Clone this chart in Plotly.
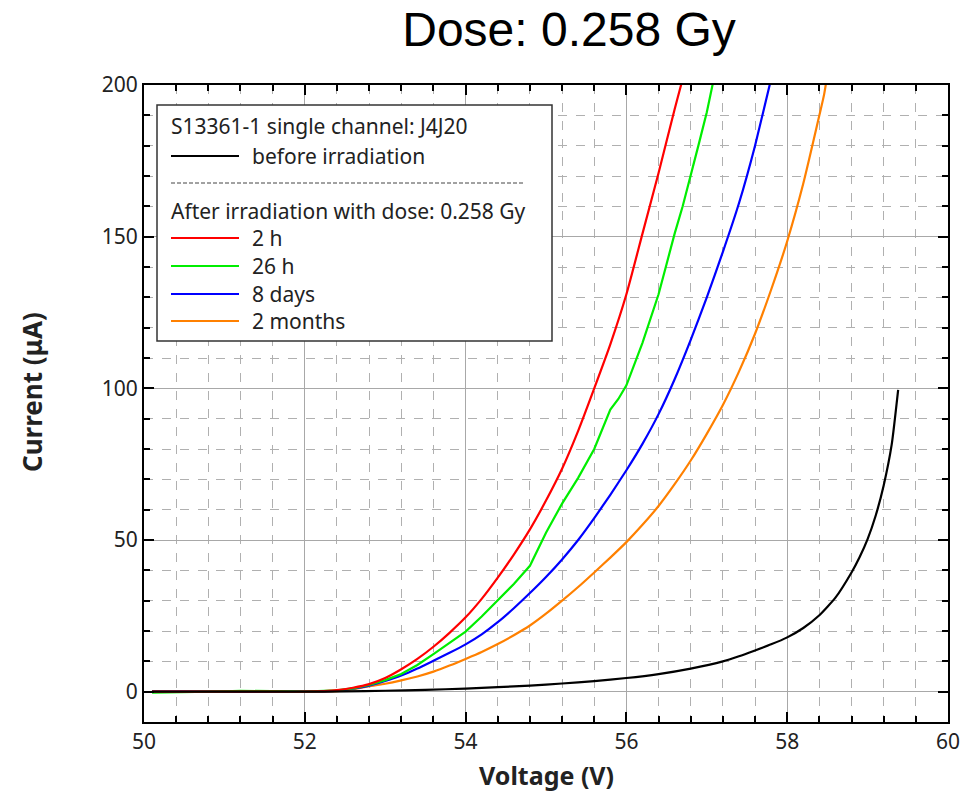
import plotly.graph_objects as go

# ---------------- data ----------------
v_before = [50.1, 51.0, 52.0, 52.5, 53.0, 53.5, 54.0, 54.4, 54.8, 55.2, 55.6, 56.0, 56.4, 56.8,
            57.2, 57.4, 57.6, 57.8, 58.0, 58.2, 58.4, 58.6, 58.8, 58.9, 59.0, 59.1, 59.2, 59.3, 59.38]
i_before = [0.0, 0.0, 0.0, 0.1, 0.3, 0.6, 1.0, 1.5, 2.0, 2.7, 3.5, 4.5, 5.8, 7.6,
            10.0, 11.7, 13.6, 15.6, 17.9, 21.0, 25.2, 31.0, 39.3, 44.3, 50.3, 58.0, 68.0, 81.5, 99.5]

v_2h = [50.1, 50.5, 51.0, 51.5, 52.0, 52.4, 52.6, 52.8, 53.0, 53.2, 53.4, 53.6, 53.8, 54.0,
        54.2, 54.4, 54.6, 54.8, 55.0, 55.2, 55.4, 55.6, 55.8, 56.0, 56.2, 56.4, 56.6, 56.68, 56.8]
i_2h = [0.0, 0.0, 0.0, 0.0, 0.0, 0.5, 1.3, 2.5, 4.5, 7.4, 10.8, 14.8, 19.4, 24.5,
        30.6, 37.6, 45.2, 53.5, 63.0, 73.5, 86.0, 100.0, 114.5, 131.0, 151.0, 171.0, 192.0, 200.0, 212.0]

v_26h = [50.1, 50.5, 51.0, 51.2, 51.5, 52.0, 52.4, 52.6, 52.8, 53.0, 53.2, 53.4, 53.6, 53.8,
         54.0, 54.2, 54.4, 54.6, 54.8, 55.0, 55.2, 55.4, 55.6, 55.8, 55.9, 56.0, 56.2, 56.4,
         56.5, 56.6, 56.7, 56.8, 56.9, 57.0, 57.07, 57.15]
i_26h = [-0.3, -0.2, 0.1, 0.3, 0.1, 0.0, 0.4, 1.1, 2.2, 3.8, 5.8, 8.8, 12.4, 16.0,
         19.8, 24.8, 30.0, 35.5, 41.5, 52.4, 62.0, 70.5, 80.0, 93.0, 96.5, 101.0, 115.0, 131.0,
         141.0, 151.0, 160.0, 170.0, 180.5, 191.0, 200.0, 210.0]

v_8d = [50.1, 50.5, 51.0, 51.5, 52.0, 52.4, 52.6, 52.8, 53.0, 53.2, 53.4, 53.6, 53.8, 54.0,
        54.2, 54.4, 54.6, 54.8, 55.0, 55.2, 55.4, 55.6, 55.8, 56.0, 56.2, 56.4, 56.6, 56.8,
        57.0, 57.2, 57.4, 57.6, 57.8, 57.9]
i_8d = [0.0, 0.0, 0.0, 0.0, 0.0, 0.3, 1.0, 2.0, 3.5, 5.3, 7.6, 10.2, 12.8, 15.6,
        18.9, 22.9, 27.5, 32.5, 37.8, 43.6, 50.0, 57.2, 64.9, 73.0, 81.7, 91.5, 103.0, 116.0,
        130.0, 145.0, 161.0, 180.0, 202.0, 212.0]

v_2m = [50.1, 50.5, 51.0, 51.5, 52.0, 52.4, 52.6, 52.8, 53.0, 53.2, 53.4, 53.6, 53.8, 54.0,
        54.2, 54.4, 54.6, 54.8, 55.0, 55.2, 55.4, 55.6, 55.8, 56.0, 56.2, 56.4, 56.6, 56.8,
        57.0, 57.2, 57.4, 57.6, 57.8, 58.0, 58.2, 58.4, 58.46, 58.55]
i_2m = [0.0, 0.0, 0.0, 0.0, 0.0, 0.2, 0.8, 1.8, 2.6, 3.7, 5.0, 6.6, 8.6, 10.8,
        13.1, 15.7, 18.6, 21.8, 25.7, 30.0, 34.5, 39.3, 44.2, 49.3, 55.0, 61.2, 68.4, 76.2,
        85.0, 94.5, 105.5, 118.0, 132.5, 148.5, 167.5, 190.0, 197.0, 212.0]

series = [
    ("before irradiation", v_before, i_before, "#000000"),
    ("2 h", v_2h, i_2h, "#ff0000"),
    ("26 h", v_26h, i_26h, "#00ee00"),
    ("8 days", v_8d, i_8d, "#0000ff"),
    ("2 months", v_2m, i_2m, "#ff8000"),
]
# the 26 h curve shows measurement kinks, drawn without smoothing
smooth = {"before irradiation": True, "2 h": True, "26 h": False, "8 days": True, "2 months": True}

legend_header = "S13361-1 single channel: J4J20"
legend_subheader = "After irradiation with dose: 0.258 Gy"
title_text = "Dose: 0.258 Gy"

# ---------------- layout geometry ----------------
W, H = 961, 793
L, R, T, B = 144, 948, 85, 722


def px_x(x):
    return (x - L) / (R - L)


def px_y(y):
    return (B - y) / (B - T)


fig = go.Figure()
for name, v, i, c in series[1:][::-1] + series[:1]:
    line = dict(color=c, width=2.2)
    if smooth[name]:
        line.update(shape="spline", smoothing=0.5)
    fig.add_trace(go.Scatter(x=v, y=i, mode="lines", name=name, line=line, showlegend=False))

tickfont = dict(family="Noto Sans", size=21, color="#222222")
axis_common = dict(
    showline=True, linecolor="black", linewidth=2, mirror="allticks",
    ticks="inside", ticklen=10, tickwidth=2, tickcolor="black",
    showgrid=True, gridcolor="#a8a8a8", gridwidth=1,
    zeroline=False, tickfont=tickfont, automargin=False,
)

fig.update_xaxes(range=[50, 60], tick0=50, dtick=2,
                 minor=dict(dtick=0.4, ticks="inside", ticklen=6, tickwidth=1.5,
                            tickcolor="black", showgrid=True, gridcolor="#b0b0b0",
                            griddash="dash", gridwidth=1),
                 **axis_common)
fig.update_yaxes(range=[-10, 200], tick0=0, dtick=50,
                 minor=dict(dtick=10, tick0=0, ticks="inside", ticklen=6, tickwidth=1.5,
                            tickcolor="black", showgrid=True, gridcolor="#b0b0b0",
                            griddash="dash", gridwidth=1),
                 **axis_common)

shapes = []
annotations = []

# legend box
shapes.append(dict(type="rect", xref="paper", yref="paper",
                   x0=px_x(157), x1=px_x(552), y0=px_y(341), y1=px_y(105),
                   fillcolor="white", line=dict(color="#333333", width=1.5), layer="above"))

leg_font = dict(family="Noto Sans", size=21, color="#222222")
annotations.append(dict(xref="paper", yref="paper", x=px_x(169), y=px_y(126),
                        xanchor="left", yanchor="middle", text=legend_header,
                        showarrow=False, font=leg_font))
# separator
shapes.append(dict(type="line", xref="paper", yref="paper",
                   x0=px_x(171), x1=px_x(525), y0=px_y(183), y1=px_y(183),
                   line=dict(color="#444444", width=1, dash="4px,2px"), layer="above"))
annotations.append(dict(xref="paper", yref="paper", x=px_x(169), y=px_y(211),
                        xanchor="left", yanchor="middle", text=legend_subheader,
                        showarrow=False, font=leg_font))

row_y = [156, 238, 266, 294, 321]
for (name, v, i, c), yy in zip(series, row_y):
    shapes.append(dict(type="line", xref="paper", yref="paper",
                       x0=px_x(171), x1=px_x(239), y0=px_y(yy), y1=px_y(yy),
                       line=dict(color=c, width=2.2), layer="above"))
    annotations.append(dict(xref="paper", yref="paper", x=px_x(250), y=px_y(yy),
                            xanchor="left", yanchor="middle", text=name,
                            showarrow=False, font=leg_font))

# axis titles
annotations.append(dict(xref="paper", yref="paper", x=px_x(546), y=px_y(775),
                        xanchor="center", yanchor="middle", text="<b>Voltage (V)</b>",
                        showarrow=False, font=dict(family="Noto Sans", size=25, color="#222222")))
annotations.append(dict(xref="paper", yref="paper", x=px_x(32), y=px_y(392),
                        xanchor="center", yanchor="middle", text="<b>Current (μA)</b>",
                        textangle=-90, showarrow=False,
                        font=dict(family="Noto Sans", size=26, color="#222222")))

fig.update_layout(
    width=W, height=H,
    margin=dict(l=L, r=W - R, t=T, b=H - B),
    paper_bgcolor="white", plot_bgcolor="white",
    title=dict(text=title_text, x=px_x(569), xref="paper", xanchor="center",
               y=1 - 29 / H, yref="container", yanchor="middle",
               font=dict(family="Liberation Sans", size=48, color="black")),
    shapes=shapes, annotations=annotations, showlegend=False,
)

fig.write_html("out.html")
